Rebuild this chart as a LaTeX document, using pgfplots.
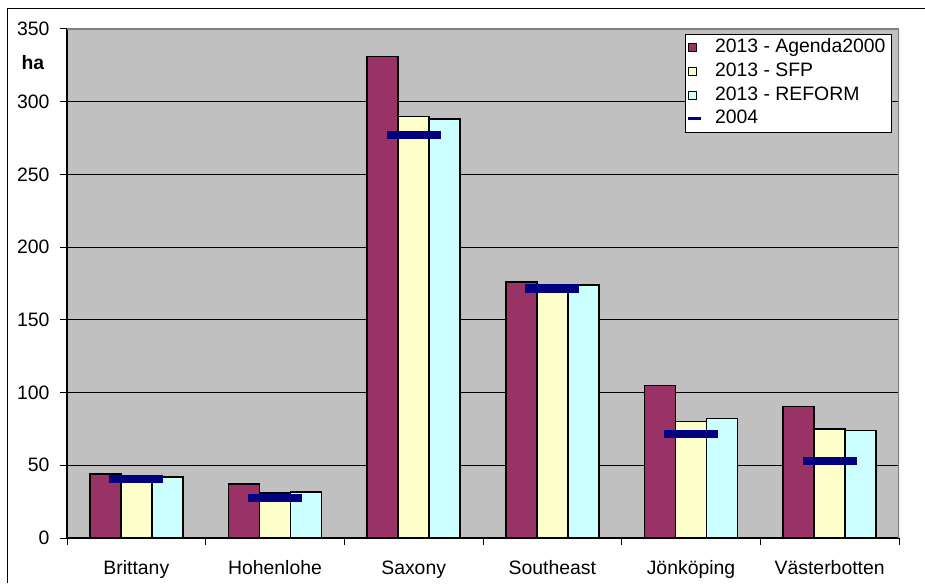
\documentclass[border=0pt]{standalone}
\usepackage{pgfplots}
\pgfplotsset{compat=1.18}
\usepackage{fontspec}
\setmainfont{Liberation Sans}
\definecolor{cA}{HTML}{993366}
\definecolor{cS}{HTML}{FFFFCC}
\definecolor{cR}{HTML}{CCFFFF}
\definecolor{navyc}{HTML}{000080}
\definecolor{bgc}{HTML}{C0C0C0}
\definecolor{frameg}{HTML}{808080}
\begin{document}
\fontsize{9.7}{11.6}\selectfont
\begin{tikzpicture}
\useasboundingbox (0,0) rectangle (462.5pt,291.5pt);
\draw[black, line width=0.5pt] (3.5pt,0) -- (3.5pt,287pt) -- (462.5pt,287pt);
\begin{axis}[
  at={(33.5pt,22.5pt)}, anchor=south west,
  scale only axis, width=416pt, height=254.5pt,
  xmin=-0.5, xmax=5.5, ymin=0, ymax=350,
  axis background/.style={fill=bgc},
  axis lines=left, axis line style={-, black, line width=0.6pt},
  xtick={0,...,5},
  xticklabels={Brittany,Hohenlohe,Saxony,Southeast,Jönköping,Västerbotten},
  minor xtick={-0.5,0.5,...,5.5},
  ytick={0,50,...,350}, minor ytick={0,50,...,350},
  major tick length=0pt, minor tick length=3.5pt, tick align=outside,
  tick style={black, line width=0.5pt},
  ymajorgrids, major grid style={black, line width=0.5pt},
  /pgf/number format/assume math mode=true,
  yticklabel style={anchor=east, xshift=-5.3pt},
  xticklabel style={anchor=north, yshift=-7.8pt, text height=7pt, text depth=2pt},
  ylabel={\textbf{ha}},
  ylabel style={at={(axis description cs:-0.0409,0.935)}, rotate=-90, anchor=center},
  legend cell align=left,
  legend style={at={(rel axis cs:1,1)}, anchor=north east, xshift=-3.5pt, yshift=-2.5pt,
    draw=black, line width=0.5pt, fill=white, inner xsep=0pt, inner ysep=0.8pt,
    row sep=0pt,
    nodes={inner xsep=3pt, inner ysep=1.4pt, text height=7pt, text depth=2pt}},
  legend image code/.code={
    \path[draw=none, fill=none] (0pt,0pt) -- (12pt,0pt);
    \draw[#1, draw=black, line width=0.4pt] (1.5pt,-2pt) rectangle (5.5pt,2pt);
  },
]
\addplot[ybar, bar width=15.5pt, bar shift=-15.5pt, fill=cA, draw=black, line width=0.7pt]
  coordinates {(0,44) (1,37) (2,331) (3,176) (4,105) (5,90.5)};
\addplot[ybar, bar width=15.5pt, bar shift=0pt, fill=cS, draw=black, line width=0.7pt]
  coordinates {(0,42) (1,31) (2,290) (3,174) (4,80) (5,75)};
\addplot[ybar, bar width=15.5pt, bar shift=15.5pt, fill=cR, draw=black, line width=0.7pt]
  coordinates {(0,42) (1,31.5) (2,288) (3,174) (4,82) (5,74)};
\addplot[only marks, mark=-, mark size=13.5pt, mark options={draw=navyc, line width=4.2pt},
  legend image code/.code={
    \path[draw=none, fill=none] (0pt,0pt) -- (12pt,0pt);
    \draw[navyc, line width=1.5pt] (1.5pt,0pt) -- (8pt,0pt);
  }]
  coordinates {(0,40.5) (1,27.5) (2,277) (3,171.5) (4,71.5) (5,53)};
\legend{2013 - Agenda2000, 2013 - SFP, 2013 - REFORM, 2004}
\draw[frameg, line width=0.6pt] (rel axis cs:0,1) -- (rel axis cs:1,1) -- (rel axis cs:1,0);
\end{axis}
\end{tikzpicture}
\end{document}
